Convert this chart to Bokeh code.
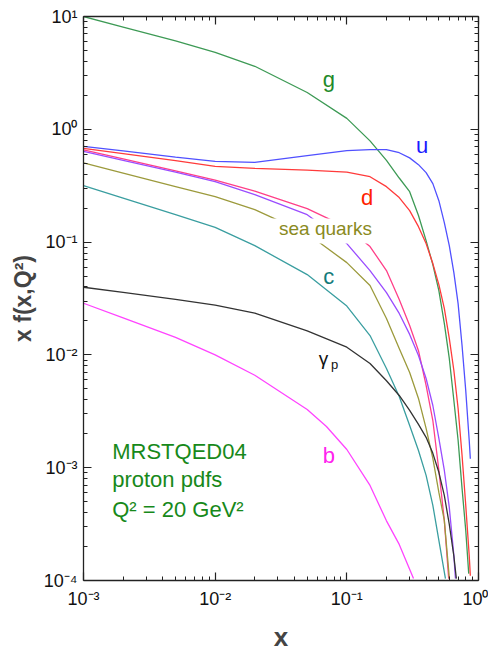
from bokeh.plotting import figure
from bokeh.models import LogAxis, FixedTicker, CustomJSTickFormatter, Label, BoxAnnotation
from bokeh.embed import file_html
from bokeh.resources import INLINE

# ---- data (x, x*f(x,Q^2)) ----
g_x = [0.001, 0.002, 0.005, 0.01, 0.02, 0.05, 0.1, 0.15, 0.2, 0.25, 0.3, 0.35, 0.4, 0.45,
       0.5, 0.55, 0.6, 0.65, 0.7, 0.75, 0.8, 0.843]
g_y = [10.0, 8.07, 6.08, 4.81, 3.62, 2.12, 1.25, 0.79, 0.53, 0.37, 0.28, 0.172, 0.103, 0.0632,
       0.0372, 0.019, 0.0093, 0.00394, 0.00175, 0.000656, 0.000279, 0.000115]

u_x = [0.001, 0.002, 0.005, 0.01, 0.02, 0.05, 0.1, 0.15, 0.2, 0.25, 0.3, 0.35, 0.4, 0.45,
       0.5, 0.55, 0.6, 0.65, 0.7, 0.75, 0.8, 0.85, 0.867]
u_y = [0.706, 0.643, 0.567, 0.52, 0.509, 0.584, 0.646, 0.66, 0.66, 0.62, 0.558, 0.486, 0.413, 0.33,
       0.233, 0.149, 0.093, 0.0537, 0.0285, 0.0121, 0.00484, 0.00175, 0.0012]

d_x = [0.001, 0.002, 0.005, 0.01, 0.02, 0.05, 0.1, 0.15, 0.2, 0.25, 0.3, 0.35, 0.4, 0.45,
       0.5, 0.55, 0.6, 0.65, 0.7, 0.75, 0.8, 0.85, 0.867]
d_y = [0.677, 0.608, 0.527, 0.47, 0.450, 0.434, 0.417, 0.38, 0.31, 0.248, 0.19, 0.137, 0.097, 0.0645,
       0.042, 0.0258, 0.014, 0.00727, 0.00335, 0.00129, 0.000464, 0.000167, 0.00011]

ubar_x = [0.001, 0.002, 0.005, 0.01, 0.02, 0.05, 0.1, 0.15, 0.2, 0.25, 0.3, 0.35, 0.4, 0.45,
          0.5, 0.55, 0.594]
ubar_y = [0.656, 0.546, 0.427, 0.354, 0.283, 0.198, 0.135, 0.0912, 0.0559, 0.031, 0.0182, 0.0109, 0.00536, 0.00262,
          0.00095, 0.000341, 0.000104]

dbar_x = [0.001, 0.002, 0.005, 0.01, 0.02, 0.05, 0.1, 0.15, 0.2, 0.25, 0.3, 0.35, 0.4, 0.45,
          0.5, 0.55, 0.6, 0.65, 0.668]
dbar_y = [0.637, 0.531, 0.418, 0.343, 0.264, 0.175, 0.097, 0.0559, 0.0357, 0.0233, 0.0152, 0.00988, 0.00618, 0.00356,
          0.00182, 0.00095, 0.000445, 0.000167, 0.000104]

s_x = [0.001, 0.002, 0.005, 0.01, 0.02, 0.05, 0.1, 0.15, 0.2, 0.25, 0.3, 0.35, 0.4, 0.45,
       0.5, 0.55, 0.601]
s_y = [0.503, 0.409, 0.311, 0.253, 0.194, 0.119, 0.0658, 0.0412, 0.021, 0.0114, 0.00698, 0.00411, 0.00223, 0.00121,
       0.000604, 0.000341, 0.000104]

c_x = [0.001, 0.002, 0.005, 0.01, 0.02, 0.05, 0.1, 0.15, 0.2, 0.25, 0.3, 0.35, 0.4, 0.45,
       0.5, 0.561]
c_y = [0.316, 0.245, 0.175, 0.135, 0.093, 0.0515, 0.0271, 0.01485, 0.00758, 0.00428, 0.00237, 0.00142, 0.000855, 0.000464,
       0.000227, 0.000104]

gam_x = [0.001, 0.002, 0.005, 0.01, 0.02, 0.05, 0.1, 0.15, 0.2, 0.25, 0.3, 0.35, 0.4, 0.45,
         0.5, 0.55, 0.6, 0.65, 0.679]
gam_y = [0.0398, 0.0358, 0.0311, 0.0276, 0.0235, 0.0163, 0.0117, 0.0084, 0.0059, 0.00437, 0.00322, 0.00242, 0.00186, 0.00134,
         0.00091, 0.000568, 0.000315, 0.000164, 0.000104]

b_x = [0.001, 0.002, 0.005, 0.01, 0.02, 0.05, 0.07, 0.1, 0.15, 0.2, 0.25, 0.321]
b_y = [0.0287, 0.0213, 0.0143, 0.0100, 0.0066, 0.00328, 0.00232, 0.00145, 0.000696, 0.000338, 0.000209, 0.000104]

x_ticks = [1e-3, 1e-2, 1e-1, 1.0]
y_ticks = [1e-4, 1e-3, 1e-2, 1e-1, 1.0, 10.0]

FONT = "Liberation Sans"

p = figure(x_axis_type="log", y_axis_type="log",
           x_range=(1e-3, 1.0), y_range=(1e-4, 10.0),
           frame_width=395, frame_height=564,
           min_border_left=83, min_border_right=10, min_border_top=16, min_border_bottom=65,
           output_backend="svg", toolbar_location=None)
p.background_fill_color = "white"
p.border_fill_color = "white"
p.outline_line_color = None
p.xgrid.visible = False
p.ygrid.visible = False

x_minor = [m * 10.0 ** k for k in range(-3, 0) for m in range(2, 10)]
y_minor = [m * 10.0 ** k for k in range(-4, 1) for m in range(2, 10)]

fmt = CustomJSTickFormatter(code="""
const sup = {"-":"\u207b","0":"\u2070","1":"\u00b9","2":"\u00b2","3":"\u00b3","4":"\u2074",
             "5":"\u2075","6":"\u2076","7":"\u2077","8":"\u2078","9":"\u2079"};
const e = Math.round(Math.log10(tick));
return "10" + String(e).split("").map(c => sup[c]).join("");
""")

def style_axis(ax, ticks, minor, labels=True):
    ax.ticker = FixedTicker(ticks=ticks, minor_ticks=minor)
    ax.axis_line_color = "#222222"
    ax.axis_line_width = 1.3
    ax.major_tick_line_color = "#222222"
    ax.minor_tick_line_color = "#222222"
    ax.major_tick_line_width = 1.2
    ax.minor_tick_line_width = 1.0
    ax.major_tick_in = 8
    ax.major_tick_out = 0
    ax.minor_tick_in = 4
    ax.minor_tick_out = 0
    if labels:
        ax.formatter = fmt
        ax.major_label_text_font = FONT
        ax.major_label_text_font_size = "18px"
        ax.major_label_text_color = "#111111"
    else:
        ax.major_label_text_font_size = "1px"
        ax.major_label_text_alpha = 0.0
        ax.major_label_standoff = 0

style_axis(p.xaxis[0], x_ticks, x_minor)
style_axis(p.yaxis[0], y_ticks, y_minor)
p.xaxis[0].major_label_standoff = 8
p.yaxis[0].major_label_standoff = 6
p.xaxis[0].axis_label = "x"
p.xaxis[0].axis_label_text_font = FONT
p.xaxis[0].axis_label_text_font_style = "bold"
p.xaxis[0].axis_label_text_font_size = "26px"
p.xaxis[0].axis_label_standoff = 10
p.yaxis[0].axis_label = "x f(x,Q\u00b2)"
p.yaxis[0].axis_label_text_font = FONT
p.yaxis[0].axis_label_text_font_style = "bold"
p.yaxis[0].axis_label_text_font_size = "23px"
p.yaxis[0].axis_label_standoff = 5

top = LogAxis()
style_axis(top, x_ticks, x_minor, labels=False)
p.add_layout(top, "above")
right = LogAxis()
style_axis(right, y_ticks, y_minor, labels=False)
p.add_layout(right, "right")

LW = 1.3
p.line(g_x, g_y, line_color="#3d9a55", line_width=LW)
p.line(u_x, u_y, line_color="#5050ff", line_width=LW)
p.line(d_x, d_y, line_color="#ff3b3b", line_width=LW)
p.line(ubar_x, ubar_y, line_color="#ff3f88", line_width=LW)
p.line(dbar_x, dbar_y, line_color="#9a4cff", line_width=LW)
p.line(s_x, s_y, line_color="#9c9a3c", line_width=LW)
p.line(c_x, c_y, line_color="#3a9ea0", line_width=LW)
p.line(gam_x, gam_y, line_color="#333333", line_width=LW)
p.line(b_x, b_y, line_color="#ff44ff", line_width=LW)

# white box behind the "sea quarks" label (hides the lines there)
p.add_layout(BoxAnnotation(left=0.0263, right=0.174, bottom=0.097, top=0.1616,
                           fill_color="white", fill_alpha=1.0, line_color=None))

def lab(x, y, t, color, size="22px", align="center"):
    p.add_layout(Label(x=x, y=y, text=t, text_color=color, text_font=FONT,
                       text_font_size=size, text_align=align, text_baseline="alphabetic"))

lab(0.0729, 2.74, "g", "#1f8a2a")
lab(0.373, 0.72, "u", "#1a1aff")
lab(0.1426, 0.25, "d", "#ff2200")
lab(0.0688, 0.131, "sea quarks", "#8a8a22", size="19px")
lab(0.0729, 0.05, "c", "#137a7a")
lab(0.0664, 0.0093, "\u03b3", "#111111", size="19px")
lab(0.0806, 0.0082, "p", "#111111", size="13px")
lab(0.0729, 0.00127, "b", "#ff22ee")

lab(0.001652, 1.39e-3, "MRSTQED04", "#17891a", size="22px", align="left")
lab(0.001652, 7.9e-4, "proton pdfs", "#17891a", size="22px", align="left")
lab(0.001652, 4.27e-4, "Q\u00b2 = 20 GeV\u00b2", "#17891a", size="22px", align="left")

open("out.html", "w").write(file_html(p, INLINE))
